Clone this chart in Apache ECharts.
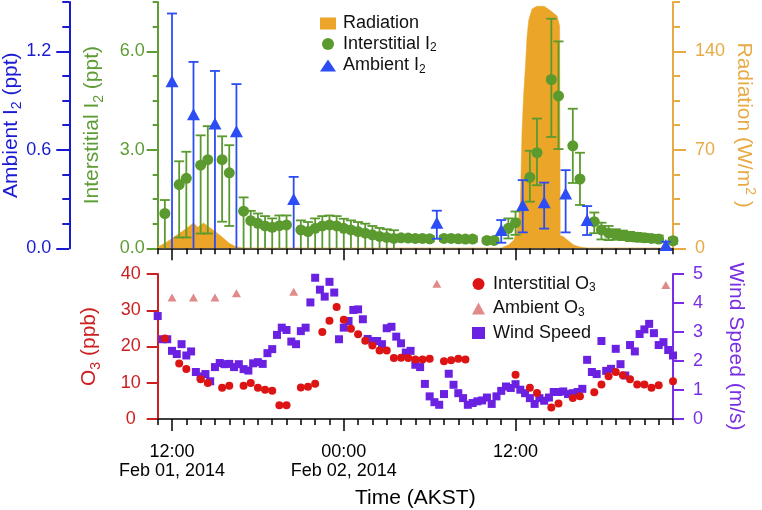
<!DOCTYPE html>
<html><head><meta charset="utf-8">
<script src="https://cdn.jsdelivr.net/npm/echarts@6/dist/echarts.min.js"></script>
<style>html,body{margin:0;padding:0;background:#fff}#c{width:762px;height:510px}</style>
</head><body><div id="c"></div>
<script>
// All times: hours since 2014-02-01 00:00 AKST
const radTime  = [11,11.5,12,12.5,13,13.5,13.8,14.2,14.6,15,15.5,16,16.5,17,35,35.5,35.9,36.1,36.22,36.34,36.45,36.57,36.69,36.8,36.92,37.15,37.5,38,38.43,38.9,39.08,39.12,39.3,39.6,40.07,40.5,41,47];
const radValue = [1,3.5,7,10.5,14,18,15,18,15,12,8,3.5,1,0.3,0.3,2.3,6,13,22,34,82,110,129,150,162,170,172,172,169,165,158,9,8.5,6,2.3,1,0.3,0.3];

const i2IntTime  = [11.5,12.5,13,14,14.5,15.5,16,17,17.5,18,18.5,19,19.5,20,21,21.5,22,22.5,23,23.5,24,24.5,25,25.5,26,26.5,27,27.5,28,28.5,29,29.5,30,31,31.5,32,32.5,33,34,34.5,35.5,36,37,37.5,38.5,39,40,40.5,41.5,42,42.5,43,43.5,44,44.5,45,45.5,46,47];
const i2IntValue = [1.06,1.94,2.13,2.53,2.70,2.70,2.30,1.13,0.84,0.76,0.68,0.64,0.69,0.71,0.56,0.51,0.61,0.68,0.71,0.68,0.61,0.56,0.51,0.46,0.41,0.36,0.33,0.30,0.32,0.31,0.30,0.30,0.29,0.30,0.30,0.29,0.28,0.28,0.24,0.24,0.61,0.78,2.16,2.91,5.14,4.64,3.12,2.11,0.81,0.56,0.46,0.42,0.39,0.36,0.34,0.32,0.30,0.28,0.23];
const i2IntLow   = [0,0.33,0.33,0.45,0.45,0.81,0.68,0,0,0,0,0,0,0,0,0,0,0,0,0,0,0,0,0,0,0,0,0,0.24,0.23,0.22,0.22,0.21,0.22,0.22,0.21,0.20,0.20,0.17,0.17,0.30,0.41,1.42,1.92,3.39,3.02,1.99,1.32,0.46,0.27,0.25,0.26,0.25,0.22,0.21,0.20,0.19,0.18,0.14];
const i2IntHigh  = [1.47,2.65,2.94,3.44,3.72,3.41,3.14,1.55,1.14,1.06,0.98,0.91,1.00,1.00,0.85,0.80,0.91,0.98,1.00,0.98,0.90,0.85,0.80,0.75,0.68,0.62,0.58,0.55,0.40,0.39,0.38,0.38,0.37,0.38,0.38,0.37,0.36,0.36,0.31,0.31,0.91,1.12,2.97,3.95,6.99,6.30,4.25,2.91,1.09,0.78,0.68,0.58,0.54,0.50,0.47,0.44,0.41,0.39,0.32];

const i2AmbTime  = [12,13.5,15,16.5,20.5,30.5,35,36.5,38,39.5,41,46.5];
const i2AmbValue = [1.018,0.817,0.76,0.713,0.30,0.156,0.111,0.263,0.28,0.334,0.172,0.02];
const i2AmbLow   = [0,0,0,0,0,0.058,0.034,0.097,0.12,0.097,0.081,0];
const i2AmbHigh  = [1.43,1.135,1.08,1.0,0.435,0.229,0.172,0.415,0.40,0.476,0.257,0.04];

const o3IntTime  = [11.5,12.5,13,14,14.5,15.5,16,17,17.5,18,18.5,19,19.5,20,21,21.5,22,22.5,23,23.5,24,24.5,25,25.5,26,26.5,27,27.5,28,28.5,29,29.5,30,31,31.5,32,32.5,36,37,37.5,38.5,39,40,40.5,41.5,42,42.5,43,43.5,44,44.5,45,45.5,46,47];
const o3IntValue = [22.2,15.3,13.8,11.0,9.9,8.6,9.2,9.2,9.9,8.6,8.1,7.8,3.8,3.8,8.7,8.9,9.7,24.0,27.1,30.9,27.4,24.9,23.4,21.6,20.3,18.9,18.9,16.8,16.9,16.8,16.4,16.4,16.6,15.9,16.2,16.6,16.4,12.2,8.6,7.2,3.2,4.3,5.8,6.3,7.4,9.5,11.8,13.0,12.1,11.0,9.5,9.5,8.6,9.3,10.4];
const o3AmbTime  = [12,13.5,15,16.5,20.5,30.5,46.5];
const o3AmbValue = [33.5,33.5,33.5,34.7,35.1,37.3,37.0];

// wind speed every 20 min from 11:00 Feb 01
const windStartHour = 11, windStepHours = 1/3;
const windValue = [3.55,2.75,2.75,2.35,2.24,2.58,2.19,2.33,1.62,1.47,1.55,1.30,1.79,1.93,1.89,1.90,1.79,1.89,1.72,1.67,1.92,1.96,1.90,2.27,2.41,2.90,3.15,3.07,2.67,2.58,3.03,3.15,4.02,4.87,4.46,4.22,4.73,4.36,2.75,3.15,3.38,3.76,3.78,3.44,2.76,2.69,2.69,2.58,3.13,3.18,2.84,2.61,2.29,2.35,1.87,1.79,1.21,0.78,0.58,0.49,0.86,1.56,1.18,0.89,0.72,0.49,0.55,0.61,0.64,0.74,0.52,0.78,0.97,1.12,1.07,1.20,1.01,0.89,0.72,0.52,0.72,0.63,0.74,0.93,0.93,0.95,0.86,0.89,0.93,1.04,2.04,1.62,1.55,2.69,1.66,1.73,2.42,1.89,1.50,2.55,2.33,2.93,3.09,3.28,2.96,2.55,2.65,2.38,2.19];

const xTickValues = [12,24,36];
const xTickLabels = ['12:00\nFeb 01, 2014','00:00\nFeb 02, 2014','12:00'];

const FONT = "'Liberation Sans', Arial, sans-serif";
const C = {green:'#5A9A2E', greenAxis:'#5E9D35', blue:'#2B4DF3', blueAxis:'#1A1AD2',
  orange:'#EBA529', orangeAxis:'#E8AA45', red:'#DC1414', redAxis:'#CC2020',
  pink:'#E08A8A', purple:'#6A21E2', purpleAxis:'#7A2EE3'};

const zip = (a,b) => a.map((v,i)=>[v,b[i]]);
const zip3 = (a,b,c) => a.map((v,i)=>[v,b[i],c[i]]);
const windData = windValue.map((v,i)=>[windStartHour + i*windStepHours, v]);

function errRender(color, cap, width) {
  return function(params, api) {
    const x = api.value(0), lo = api.value(1), hi = api.value(2);
    const p1 = api.coord([x, lo]), p2 = api.coord([x, hi]);
    const hw = cap/2, st = {stroke: color, lineWidth: width};
    const ch = [
      {type:'line', shape:{x1:p1[0],y1:p1[1],x2:p2[0],y2:p2[1]}, style:st},
      {type:'line', shape:{x1:p2[0]-hw,y1:p2[1],x2:p2[0]+hw,y2:p2[1]}, style:st}
    ];
    if (lo > 0) ch.push({type:'line', shape:{x1:p1[0]-hw,y1:p1[1],x2:p1[0]+hw,y2:p1[1]}, style:st});
    return {type:'group', children: ch};
  };
}

function nameRich(color, size) {
  return {
    a:{fontSize:size, fontFamily:FONT, color:color, lineHeight:26},
    s:{fontSize:14, fontFamily:FONT, color:color, verticalAlign:'bottom', lineHeight:16},
    p:{fontSize:14, fontFamily:FONT, color:color, verticalAlign:'top', lineHeight:16}
  };
}

const GL = 157.7, GR = 89;
function xMain(gi, labels) {
  return {type:'value', gridIndex:gi, min:11, max:47, position:'bottom',
    axisLine:{show:true, onZero:false, lineStyle:{color:'#000', width:1.5}},
    axisTick:{show:true, customValues:xTickValues, length:12, lineStyle:{color:'#000', width:1.5}},
    axisLabel:{show:labels, customValues:xTickValues, margin:23, color:'#000', fontSize:18, lineHeight:19.5, fontFamily:FONT,
      formatter: v => xTickLabels[xTickValues.indexOf(Math.round(v))] || ''},
    splitLine:{show:false},
    name: labels ? 'Time (AKST)' : '', nameLocation:'middle', nameGap:69, nameMoveOverlap:false,
    nameTextStyle:{fontSize:21, fontFamily:FONT, color:'#000'}
  };
}
function xMinor(gi) {
  return {type:'value', gridIndex:gi, min:11, max:47, interval:1, position:'bottom',
    axisLine:{show:false, onZero:false}, axisTick:{show:true, length:6, lineStyle:{color:'#000', width:1.5}},
    axisLabel:{show:false}, splitLine:{show:false}};
}
function yMajor(gi, pos, off, max, vals, color, len) {
  return {type:'value', gridIndex:gi, position:pos, offset:off, min:0, max:max,
    axisLine:{show:false, onZero:false}, axisTick:{show:true, customValues:vals, length:len, lineStyle:{color:color, width:2}},
    axisLabel:{show:false}, splitLine:{show:false}};
}

const option = {
  animation:false,
  backgroundColor:'#fff',
  grid:[{left:GL, right:GR, top:2, height:246.3, outerBoundsMode:'none', containLabel:false},
        {left:GL, right:GR, top:274, height:145, outerBoundsMode:'none', containLabel:false}],
  xAxis:[xMain(0,false), xMinor(0), xMain(1,true), xMinor(1)],
  yAxis:[
    {type:'value', gridIndex:0, position:'left', offset:0, min:0, max:7.5, interval:0.75,
      axisLine:{show:true, onZero:false, lineStyle:{color:C.greenAxis, width:2}},
      axisTick:{length:5, lineStyle:{color:C.greenAxis, width:2}},
      axisLabel:{customValues:[0,3,6], formatter:v=>v.toFixed(1), color:C.greenAxis, fontSize:18, fontFamily:FONT, margin:13},
      splitLine:{show:false},
      name:'{a|Interstitial I}{s|2}{a| (ppt)}', nameLocation:'middle', nameRotate:90, nameGap:52, nameMoveOverlap:false,
      nameTextStyle:{rich:nameRich(C.greenAxis,21)}},
    yMajor(0,'left',0,7.5,[0,3,6],C.greenAxis,11),
    {type:'value', gridIndex:0, position:'left', offset:88.4, min:0, max:1.5, interval:0.15,
      axisLine:{show:true, onZero:false, lineStyle:{color:C.blueAxis, width:2}},
      axisTick:{length:7, lineStyle:{color:C.blueAxis, width:2}},
      axisLabel:{customValues:[0,0.6,1.2], formatter:v=>v.toFixed(1), color:C.blueAxis, fontSize:18, fontFamily:FONT, margin:18},
      splitLine:{show:false},
      name:'{a|Ambient I}{s|2}{a| (ppt)}', nameLocation:'middle', nameRotate:90, nameGap:45, nameMoveOverlap:false,
      nameTextStyle:{rich:nameRich(C.blueAxis,21)}},
    yMajor(0,'left',88.4,1.5,[0,0.6,1.2],C.blueAxis,13),
    {type:'value', gridIndex:0, position:'right', offset:0, min:0, max:175, interval:17.5,
      axisLine:{show:true, onZero:false, lineStyle:{color:C.orangeAxis, width:2}},
      axisTick:{length:7, lineStyle:{color:C.orangeAxis, width:2}},
      axisLabel:{customValues:[0,70,140], formatter:v=>String(Math.round(v)), color:C.orangeAxis, fontSize:18, fontFamily:FONT, margin:22},
      splitLine:{show:false},
      name:'{a|Radiation (W/m}{p|2}{a| )}', nameLocation:'middle', nameRotate:-90, nameGap:58, nameMoveOverlap:false,
      nameTextStyle:{rich:nameRich(C.orangeAxis,21)}},
    yMajor(0,'right',0,175,[0,70,140],C.orangeAxis,13),
    {type:'value', gridIndex:1, position:'left', min:0, max:40, interval:10,
      axisLine:{show:true, onZero:false, lineStyle:{color:C.redAxis, width:2}},
      axisTick:{length:11, lineStyle:{color:C.redAxis, width:2}},
      axisLabel:{color:C.redAxis, fontSize:18, fontFamily:FONT, margin:27, align:'center'},
      splitLine:{show:false},
      name:'{a|O}{s|3}{a| (ppb)}', nameLocation:'middle', nameRotate:90, nameGap:55, nameMoveOverlap:false,
      nameTextStyle:{rich:nameRich(C.redAxis,21)}},
    {type:'value', gridIndex:1, position:'right', min:0, max:5, interval:1,
      axisLine:{show:true, onZero:false, lineStyle:{color:C.purpleAxis, width:2}},
      axisTick:{length:11, lineStyle:{color:C.purpleAxis, width:2}},
      axisLabel:{color:C.purpleAxis, fontSize:18, fontFamily:FONT, margin:20},
      splitLine:{show:false},
      name:'Wind Speed (m/s)', nameLocation:'middle', nameRotate:-90, nameGap:52, nameMoveOverlap:false,
      nameTextStyle:{fontSize:21, fontFamily:FONT, color:C.purpleAxis}}
  ],
  legend:[
    {orient:'vertical', left:315, top:9.5, itemWidth:16, itemHeight:12, itemGap:2.5, selectedMode:false,
      data:[{name:'Radiation', icon:'rect'},{name:'Interstitial I2', icon:'circle'},{name:'Ambient I2', icon:'triangle'}],
      formatter: n => n.endsWith('I2') ? '{a|'+n.slice(0,-1)+'}{s|2}' : '{a|'+n+'}',
      textStyle:{rich:{a:{fontSize:18, fontFamily:FONT, color:'#111', lineHeight:20, padding:[0,0,0,2]},
                       s:{fontSize:12, fontFamily:FONT, color:'#111', verticalAlign:'bottom', lineHeight:12}}}},
    {orient:'vertical', left:467, top:270, itemWidth:13, itemHeight:12, itemGap:5.5, selectedMode:false,
      data:[{name:'Interstitial O3', icon:'circle'},{name:'Ambient O3', icon:'triangle'},{name:'Wind Speed', icon:'rect'}],
      formatter: n => n.endsWith('O3') ? '{a|'+n.slice(0,-1)+'}{s|3}' : '{a|'+n+'}',
      textStyle:{rich:{a:{fontSize:18, fontFamily:FONT, color:'#111', lineHeight:20, padding:[0,0,0,3]},
                       s:{fontSize:12, fontFamily:FONT, color:'#111', verticalAlign:'bottom', lineHeight:12}}}}
  ],
  series:[
    {name:'Radiation', type:'line', xAxisIndex:0, yAxisIndex:4, data:zip(radTime, radValue), symbol:'none',
      lineStyle:{width:0.5, color:C.orange}, itemStyle:{color:C.orange}, areaStyle:{color:C.orange, opacity:1}, z:1, silent:true},
    {type:'custom', xAxisIndex:0, yAxisIndex:0, data:zip3(i2IntTime, i2IntLow, i2IntHigh),
      renderItem:errRender(C.green, 10, 1.8), z:3, silent:true},
    {name:'Interstitial I2', type:'scatter', xAxisIndex:0, yAxisIndex:0, data:zip(i2IntTime, i2IntValue),
      symbol:'circle', symbolSize:11, itemStyle:{color:C.green, opacity:1}, z:4},
    {type:'custom', xAxisIndex:0, yAxisIndex:2, data:zip3(i2AmbTime, i2AmbLow, i2AmbHigh),
      renderItem:errRender(C.blue, 10, 1.8), z:5, silent:true},
    {name:'Ambient I2', type:'scatter', xAxisIndex:0, yAxisIndex:2, data:zip(i2AmbTime, i2AmbValue),
      symbol:'triangle', symbolSize:[13,12], itemStyle:{color:C.blue, opacity:1}, z:6},
    {name:'Wind Speed', type:'scatter', xAxisIndex:2, yAxisIndex:7, data:windData,
      symbol:'rect', symbolSize:8, itemStyle:{color:C.purple, opacity:1}, z:3},
    {name:'Ambient O3', type:'scatter', xAxisIndex:2, yAxisIndex:6, data:zip(o3AmbTime, o3AmbValue),
      symbol:'triangle', symbolSize:[9,8], itemStyle:{color:C.pink, opacity:1}, z:4},
    {name:'Interstitial O3', type:'scatter', xAxisIndex:2, yAxisIndex:6, data:zip(o3IntTime, o3IntValue),
      symbol:'circle', symbolSize:8, itemStyle:{color:C.red, opacity:1}, z:5}
  ]
};
const chart = echarts.init(document.getElementById('c'), null, {renderer:'canvas'});
chart.setOption(option);
</script></body></html>
